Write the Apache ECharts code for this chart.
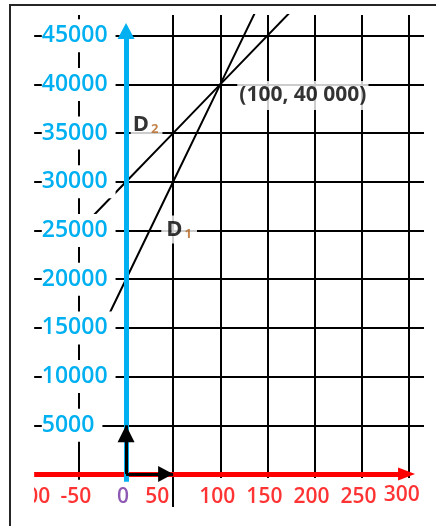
<!DOCTYPE html>
<html>
<head>
<meta charset="utf-8">
<script src="https://cdn.jsdelivr.net/npm/echarts@6/dist/echarts.min.js"></script>
<style>
  html, body { margin: 0; padding: 0; background: #fff; }
  #chart { width: 436px; height: 526px; }
</style>
</head>
<body>
<div id="chart"></div>
<script>
// tick values of both axes
const xTicks = [-100, -50, 0, 50, 100, 150, 200, 250, 300];
const yTicks = [5000, 10000, 15000, 20000, 25000, 30000, 35000, 40000, 45000];

// the two lines
// D1 : y = 200x + 20000   D2 : y = 100x + 30000
const d1Points = [[-19, 16200], [50, 30000], [100, 40000], [140, 48000]];
const d2Points = [[-43, 25700], [0, 30000], [50, 35000], [100, 40000], [180, 48000]];

// intersection and its label
const crossPoint = [100, 40000];
const crossText = '(100, 40 000)';

// unit vectors drawn at the origin
const unitI = [50, 0];
const unitJ = [0, 5000];

// where the D1 / D2 names sit
const d1LabelAt = [50, 25000];
const d2LabelAt = [25, 35000];

// visible extent of the squared paper
const xLo = -97.5, xHi = 316.2, yTop = 47125;

const FONT = 'Open Sans';
const BLUE = '#00b0f0';
const RED = '#ff0000';

let chart = echarts.init(document.getElementById('chart'));

// squared paper lines
const hLines = yTicks.map(v => [{coord: [xLo, v]}, {coord: [xHi, v]}]);
const vLines = xTicks.filter(v => v !== 0 && v !== -100).map(v => {
  // the 50 line runs down past the x axis, the others stop just under it
  let low = v === 50 ? -3400 : (v === -50 ? -600 : -400);
  return [{coord: [v, low]}, {coord: [v, yTop]}];
});

// x tick labels sit under the red axis (y = 0)
const xLabelData = xTicks.map(v => {
  let dx = -3, dy = 0, color = RED;
  if (v === 0) color = '#7030a0';
  if (v === 50) dx = -16;
  if (v === 300) { dx = -7; dy = -2; }
  return {
    value: [v, 0],
    label: {color: color, offset: [dx, dy]}
  };
});

const option = {
  animation: false,
  backgroundColor: '#fff',
  grid: {
    left: 31.8, right: 12, top: 15, bottom: 3.3,
    outerBoundsMode: 'none',
    containLabel: false
  },
  xAxis: {
    type: 'value',
    min: -100,
    max: xHi,
    interval: 50,
    axisLine: {show: false},
    axisTick: {show: false},
    splitLine: {show: false},
    axisLabel: {show: false}
  },
  yAxis: {
    type: 'value',
    min: -5000,
    max: yTop,
    interval: 5000,
    z: 6,
    axisLine: {show: false, onZero: false},
    axisTick: {show: false},
    splitLine: {show: false},
    axisLabel: {
      inside: true,
      margin: 10,
      showMinLabel: false,
      showMaxLabel: false,
      formatter: v => (v > 0 && v <= 45000) ? '{b|' + v + '}' : '',
      rich: {
        b: {
          color: BLUE, fontSize: 23, fontWeight: 600, fontFamily: FONT,
          backgroundColor: '#fff', padding: [5, 8, 5, 0], lineHeight: 24
        }
      }
    }
  },
  graphic: [
    // the -100 label is cut off on its left side
    {
      type: 'rect', silent: true, z: 100,
      shape: {x: 0, y: 480, width: 34, height: 34},
      style: {fill: '#fff'}
    },
    // frame of the original figure
    {
      type: 'rect', silent: true, z: 101,
      shape: {x: 10, y: 5, width: 500, height: 600},
      style: {fill: 'transparent', stroke: '#262626', lineWidth: 2}
    }
  ],
  series: [
    {
      name: 'paper',
      type: 'line',
      z: 1,
      data: [],
      markLine: {
        silent: true,
        symbol: 'none',
        label: {show: false},
        lineStyle: {color: '#000', width: 2, type: 'solid'},
        data: hLines.concat(vLines)
      }
    },
    {
      name: 'D1',
      type: 'line',
      z: 2,
      symbol: 'none',
      lineStyle: {color: '#000', width: 2},
      data: d1Points
    },
    {
      name: 'D2',
      type: 'line',
      z: 2,
      symbol: 'none',
      lineStyle: {color: '#000', width: 2},
      data: d2Points
    },
    {
      name: 'axes',
      type: 'line',
      z: 3,
      data: [],
      markLine: {
        silent: true,
        label: {show: false},
        symbol: ['none', 'triangle'],
        data: [
          [{coord: [xLo, 0], symbol: 'none', lineStyle: {color: RED, width: 5, type: 'solid'}},
           {coord: [297.7, 0], symbolSize: [13, 17]}],
          [{coord: [0, -800], symbol: 'none', lineStyle: {color: BLUE, width: 5, type: 'solid'}},
           {coord: [0, 45483], symbolSize: [17, 16]}]
        ]
      }
    },
    {
      name: 'units',
      type: 'line',
      z: 4,
      data: [],
      markLine: {
        silent: true,
        label: {show: false},
        symbol: ['none', 'triangle'],
        data: [
          [{coord: [0, 0], symbol: 'none', lineStyle: {color: '#000', width: 3, type: 'solid'}},
           {coord: unitJ, symbolSize: [17, 17], symbolOffset: [0, '50%']}],
          [{coord: [0, 0], symbol: 'none', lineStyle: {color: '#000', width: 3, type: 'solid'}},
           {coord: unitI, symbolSize: [16, 15], symbolOffset: [0, '50%']}]
        ]
      }
    },
    {
      name: 'xLabels',
      type: 'scatter',
      z: 5,
      silent: true,
      symbolSize: 0,
      label: {
        show: true,
        position: 'bottom',
        distance: 11,
        formatter: p => String(p.value[0]),
        fontSize: 21,
        fontWeight: 600,
        fontFamily: FONT,
        lineHeight: 24
      },
      data: xLabelData
    },
    {
      name: 'labels',
      type: 'scatter',
      z: 5,
      silent: true,
      symbolSize: 0,
      data: [
        {
          value: crossPoint,
          label: {
            show: true, position: 'right', distance: 0, offset: [17, 11],
            formatter: crossText,
            color: '#000', fontSize: 21, fontWeight: 'bold', fontFamily: FONT,
            backgroundColor: '#fff', padding: [4, 2, 4, 2]
          }
        },
        {
          value: d1LabelAt,
          label: {
            show: true, position: 'inside', offset: [6, -1],
            formatter: '{d|D}{s|1}',
            backgroundColor: '#fff', padding: [3, 5, 3, 5],
            rich: {
              d: {color: '#000', fontSize: 22, fontWeight: 'bold', fontFamily: FONT, verticalAlign: 'bottom'},
              s: {color: '#b4641e', fontSize: 13, fontWeight: 'bold', fontFamily: FONT, verticalAlign: 'bottom', padding: [0, 0, 0, 2]}
            }
          }
        },
        {
          value: d2LabelAt,
          label: {
            show: true, position: 'inside', offset: [-3, -8],
            formatter: '{d|D}{s|2}',
            backgroundColor: '#fff', padding: [1, 4, 2, 2],
            rich: {
              d: {color: '#000', fontSize: 22, fontWeight: 'bold', fontFamily: FONT, verticalAlign: 'bottom'},
              s: {color: '#b4641e', fontSize: 13, fontWeight: 'bold', fontFamily: FONT, verticalAlign: 'bottom', padding: [0, 0, 0, 2]}
            }
          }
        }
      ]
    }
  ]
};

chart.setOption(option);
</script>
</body>
</html>
